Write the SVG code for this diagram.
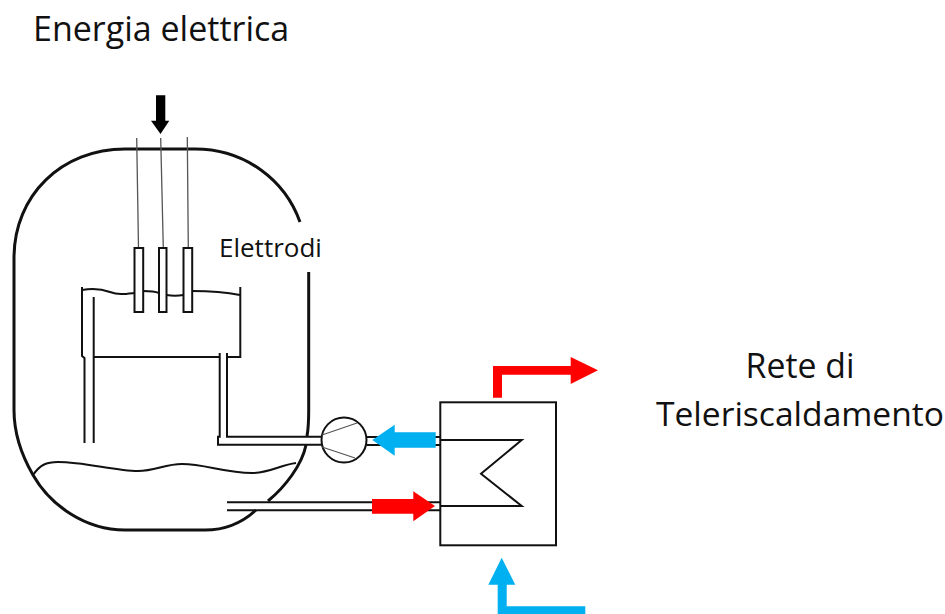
<svg xmlns="http://www.w3.org/2000/svg" width="945" height="614" viewBox="0 0 945 614">
<style>
.t{font-family:"Open Sans","Noto Sans","Liberation Sans",sans-serif;fill:#111}
.l{fill:none;stroke:#111;stroke-width:2}
.v{fill:none;stroke:#111;stroke-width:3}
.w{fill:none;stroke:#555;stroke-width:1.300}
.red{fill:#ff0000}
.blue{fill:#00b0f0}
</style>
<rect width="945" height="614" fill="#fff"/>
<text class="t" x="33" y="41" font-size="34">Energia elettrica</text>
<text class="t" x="219" y="257" font-size="26">Elettrodi</text>
<text class="t" x="800" y="378" font-size="33.800" text-anchor="middle">Rete di</text>
<text class="t" x="800" y="426" font-size="33.600" text-anchor="middle">Teleriscaldamento</text>
<g id="vessel">
<path class="v" d="M300 222C285 180 245 149 195 149L125 149C62 149 14 195 14 258L14 410C14 432 22 456 33 475C50 505 85 530 125 530L205 530C225 530 243 522 256 510"/>
<path class="v" d="M268 501C285 487 302 465 306 445"/>
<path class="v" d="M307 436C308.500 428 308.700 420 308.700 410L308.700 272"/>
<path class="l" d="M33 475C40 465 46 462 58 462C85 462 115 471 138 471C155 471 165 464 182 464C205 464 225 473 252 473C270 473 280 465 296 463"/>
</g>
<g id="electrodes">
<path class="w" d="M136.700 138L138.500 248M160.700 138L163.300 248M187.300 137L188.300 248"/>
<rect class="l" x="134.500" y="248" width="8.700" height="64" fill="#fff"/>
<rect class="l" x="159" y="248" width="7.500" height="64" fill="#fff"/>
<rect class="l" x="183.500" y="248" width="8.700" height="64" fill="#fff"/>
</g>
<g id="tank">
<path class="l" d="M82 287L82 356L84.500 358L84.500 443M240.300 287L240.300 357L227 357M219.700 357L94 357M93.700 297L93.700 443"/>
<path class="l" d="M82 290C92 288 102 289 110 292C118 295 125 294 134 293M143 291C150 291 154 291 159 293M166.500 295C172 296 178 296 183.500 295M192 291C208 291 225 292 240 295"/>
</g>
<g id="connectors">
<path class="l" d="M219.700 353L219.700 436.700L218 436.700L218 444.700L321.500 444.700M227 353L227 436.700L321.500 436.700"/>
<path class="l" d="M367 437L440 437M367 445L440 445"/>
<path class="l" d="M227 502.300L440 502.300M227 510.300L440 510.300"/>
</g>
<g id="pump">
<circle class="l" cx="344" cy="440" r="22.500" fill="#fff"/>
<path class="w" d="M322 435L357 423M322 447L355 458"/>
</g>
<g id="exchanger">
<rect x="440.300" y="402.300" width="115.700" height="143" fill="none" stroke="#111" stroke-width="2"/>
<path class="l" d="M440 440L521.700 440L481 473.700L521.700 506L440 506"/>
</g>
<g id="arrows">
<path d="M156 95.300L165.300 95.300L165.300 120.700L169.300 120.700L160.500 134L151 120.700L156 120.700Z" fill="#000"/>
<path class="blue" d="M372.300 440L394.700 424.700L394.700 432.300L435.700 432.300L435.700 447.700L394.700 447.700L394.700 455.700Z"/>
<path class="red" d="M372 499L413.300 499L413.300 491.300L435 506L413.300 521.300L413.300 513.700L372 513.700Z"/>
<path class="red" d="M493 397.700L493 366L570.700 366L570.700 357L598 370.300L570.700 384L570.700 374.700L502 374.700L502 397.700Z"/>
<path class="blue" d="M501.700 557.700L515.300 584.700L506.700 584.700L506.700 606.300L585.300 606.300L585.300 614L497.700 614L497.700 584.700L488.300 584.700Z"/>
</g>
</svg>
